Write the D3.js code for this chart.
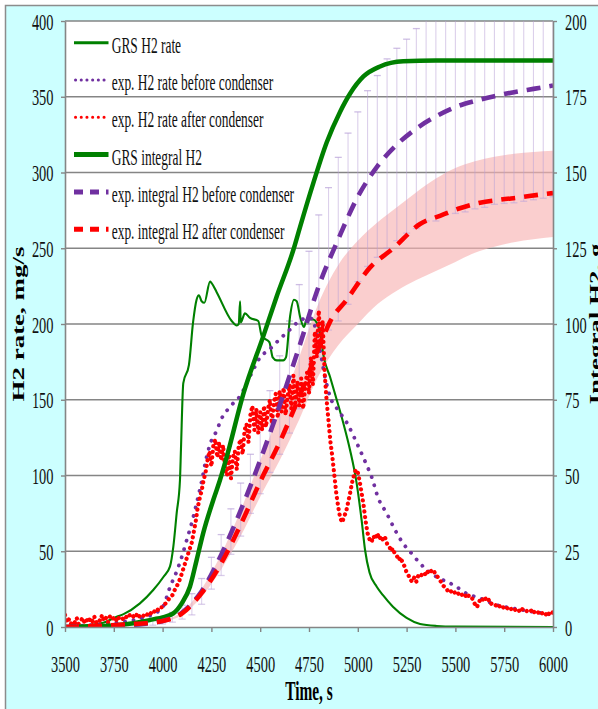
<!DOCTYPE html>
<html><head><meta charset="utf-8">
<script src="https://cdn.jsdelivr.net/npm/d3@7/dist/d3.min.js"></script>
<style>html,body{margin:0;padding:0;background:#fff;}svg{display:block;}</style>
</head><body>
<script>
// ---------- DATA ----------
const xTicks = [3500,3750,4000,4250,4500,4750,5000,5250,5500,5750,6000];
const yLeftTicks = [0,50,100,150,200,250,300,350,400];
const yRightTicks = [0,25,50,75,100,125,150,175,200];

// GRS H2 rate (mg/s)
const grsRateT = [3500,3600,3700,3765,3800,3884,3952,4004,4038,4055,4072,4089,4094,4106,4135,4156,4174,4186,4200,4214,4243,4251,4277,4354,4380,4390,4397,4400,4422,4448,4490,4508,4547,4564,4585,4618,4632,4653,4673,4687,4704,4724,4738,4772,4789,4810,4823,4858,4892,4926,4960,4994,5020,5037,5060,5097,5129,5180,5250,5319,5404,5500,6000];
const grsRateV = [0.3,1,3,6.8,8.5,15.6,24.4,33,40,53,75,97,117,161,173,201,216,219,215,214,228,227,221,202,199,200,215,201,207,204,202,192,188,178,176,176,178,205,216,215,205,198,203,203,201,192,180,165,150,134.5,117,95,70,51,36,26.6,21,13.4,6,2,0.7,0.3,0];

// exp. H2 rate before condenser (mg/s)
const expBeforeRateT = [3500,3600,3700,3800,3900,3950,4000,4040,4070,4100,4125,4150,4175,4200,4225,4250,4275,4300,4350,4400,4450,4500,4550,4600,4650,4700,4750,4770,4790,4806,4832,4858,4900,4943,5000,5045,5071,5105,5148,5191,5233,5268,5319,5353,5404,5455,5500,5558,5626,5712,5797,5899,6000];
const expBeforeRateV = [0.5,1,2,3.5,6,8.5,13,27,36,47,58,69,82,96,112,123,129,137,146,153,166,178,183.5,190,196,202,204,203,192,183,165,152,143,135,120,107,99,85,75,64,55,49.7,42,37.6,33,30,27,22,19,14.5,12.3,10,8];

// exp. H2 rate after condenser (mg/s), one reading every 10 s from 3500 s
const expAfterRateStart = 3500, expAfterRateStep = 10;
const expAfterRateV = [
 8,3,5,2,4,3,6,2,4,6,
 3,5,3,6,4,7,3,5,4,8,
 4,6,3,7,5,6,4,7,5,6,
 5,7,6,8,6,7,6,9,7,8,
 7,9,8,10,9,11,10,12,11,13,
 13,15,16,18,20,21,24,26,29,32,
 36,40,44,48,52,56,63,70,79,85,
 90,97,102,110,116,106,120,124,112,122,
 110,120,104,100,114,98,112,116,104,120,
 124,114,130,134,122,140,146,130,144,128,
 142,130,146,132,144,150,134,148,154,138,
 156,142,158,140,152,160,144,166,148,162,
 146,164,144,158,168,154,178,160,195,178,
 209,184,202,168,150,136,122,112,100,88,
 79,72,69,73,76,82,88,95,100,104,
 102,96,88,80,70,62,58,56,60,58,
 62,58,60,57,59,55,54,50,52,48,
 47,44,46,42,40,36,34,31,30,33,
 30,34,33,35,36,34,37,38,36,37,
 34,33,31,29,27,26,24,25,23,24,
 22,23,21,22,20,21,19,21,20,18,
 15,13,16,19,18,20,17,18,15,16,
 15,14,15,13,14,12,13,12,13,11,
 12,11,12,10,12,11,10,11,10,11,
 9,11,10,9,10,8,9,7,9,8,
 10];

// GRS integral H2 (g)
const grsIntT = [3500,3700,3800,3900,3950,4000,4055,4098,4140,4174,4208,4260,4294,4328,4414,4516,4584,4670,4704,4772,4841,4909,4960,5029,5114,5233,5400,6000];
const grsIntV = [0,0.3,0.8,1.8,2.5,3.2,4.5,7.8,13.3,22,31,42,48.5,56,77,96,109,124.5,132,146.5,160,170,176,181.7,185,186.7,187,187];

// exp. integral H2 before condenser (g)
const expBeforeIntT = [3500,3800,3900,4000,4100,4200,4300,4400,4500,4600,4700,4800,4900,5000,5100,5200,5300,5400,5500,5600,5700,5800,5900,6000];
const expBeforeIntV = [0,0.5,1,2,4.8,11.8,23.8,38.5,55,73.2,92.5,112.5,128,142,152,159.2,164.5,168.5,171.6,173.6,175.2,176.5,177.6,178.7];

// exp. integral H2 after condenser (g)
const expAfterIntT = [3500,3800,4000,4100,4200,4300,4400,4500,4600,4700,4800,4858,4943,5062,5182,5319,5421,5523,5626,5728,5831,5933,6000];
const expAfterIntV = [0,0.8,2,4.5,11.2,21,33.8,48,61,76,92,100.8,108,118.6,125,133,135.7,138.2,140,141,141.8,142.7,143.2];

// uncertainty band of integral after condenser (g)
const bandT  = [4000,4100,4200,4300,4400,4500,4600,4700,4800,4900,5000,5100,5200,5300,5400,5500,5600,5700,5800,5900,6000];
const bandHi = [2.3,5,12.6,24,38.5,55,71,89,107,119.5,127.5,133.5,138.5,143.5,148,151.5,153.7,155.2,156.2,156.8,157.2];
const bandLo = [1.7,4,10,19,30,43,55,68.5,83,93,100,106.5,111,114.5,117.5,120.5,123.5,125.5,127,128,128.7];

// error bars of integral before condenser (g)
const errT  = [3900,3950,4000,4050,4100,4150,4200,4250,4300,4350,4400,4450,4500,4550,4600,4650,4700,4750,4800,4850,4900,4950,5000,5050,5100,5150,5200,5250,5300,5350,5400,5450,5500,5550,5600,5650,5700,5750,5800,5850,5900,5950,6000];
const errHi = [1.5,2.2,3.2,4.8,7.2,11,16,23,30.5,39,47.5,57,67,78,89.5,101,113,124,136,145,155,163,170,177,182,187.5,191,194,197.5,200.5,203,205,207,208,209,210,211,212,213,213.5,214,215,215.5];
const errLo = [0.4,0.6,1,1.6,2.6,4,7.5,12.5,17,24,30,37.5,44,51,57,64,72,80.5,89,98,101,106.5,114,119,122,125,127.5,130,131.5,134,134,136,136.5,137,138,138.5,139.5,139.8,140,140.5,141,141.5,142];

const legendLabels = ["GRS H2 rate","exp. H2 rate before condenser","exp. H2 rate after condenser","GRS integral H2","exp. integral H2 before condenser","exp. integral H2 after condenser"];

// ---------- DRAW ----------
const W = 598, H = 709;
const M = {l:65, r:553, t:21, b:627};
const GREEN = "#008000", PURPLE = "#7030a0", RED = "#ff0000", GRID = "#858585";
const FONT = "'Liberation Serif','Times New Roman',serif";

const svg = d3.select("body").append("svg").attr("width", W).attr("height", H);
svg.append("rect").attr("x",5.5).attr("y",5.5).attr("width",W+10).attr("height",H+10)
   .attr("fill","#ccffff").attr("stroke","#8c8c8c").attr("stroke-width",1.5);
svg.append("rect").attr("x",M.l).attr("y",M.t).attr("width",M.r-M.l).attr("height",M.b-M.t).attr("fill","#fff");

const x = d3.scaleLinear().domain([3500,6000]).range([M.l,M.r]);
const yL = d3.scaleLinear().domain([0,400]).range([M.b,M.t]);
const yR = d3.scaleLinear().domain([0,200]).range([M.b,M.t]);

// gridlines
svg.append("g").selectAll("line").data(yLeftTicks.filter(d=>d>0)).join("line")
  .attr("x1",M.l).attr("x2",M.r).attr("y1",d=>yL(d)).attr("y2",d=>yL(d))
  .attr("stroke",GRID).attr("stroke-width",1.7);

const clip = svg.append("clipPath").attr("id","plotclip").append("rect")
  .attr("x",M.l).attr("y",M.t).attr("width",M.r-M.l).attr("height",M.b-M.t);
const plot = svg.append("g").attr("clip-path","url(#plotclip)");

// band
const bandData = bandT.map((t,i)=>({t, hi:bandHi[i], lo:bandLo[i]}));
plot.append("path").datum(bandData)
  .attr("d", d3.area().x(d=>x(d.t)).y0(d=>yR(d.lo)).y1(d=>yR(d.hi)).curve(d3.curveMonotoneX))
  .attr("fill","#f8b4b4").attr("fill-opacity",0.65);

// error bars
const errData = errT.map((t,i)=>({t, hi:errHi[i], lo:errLo[i]}));
const eb = plot.append("g");
eb.selectAll("line.v").data(errData).join("line").attr("class","v")
  .attr("x1",d=>x(d.t)).attr("x2",d=>x(d.t)).attr("y1",d=>yR(d.lo)).attr("y2",d=>yR(Math.min(d.hi,200)))
  .attr("stroke","#b9a2d8").attr("stroke-opacity",0.5).attr("stroke-width",1.1);
eb.selectAll("line.h").data(errData.filter(d=>d.hi<=200)).join("line").attr("class","h")
  .attr("x1",d=>x(d.t)-3.5).attr("x2",d=>x(d.t)+3.5).attr("y1",d=>yR(d.hi)).attr("y2",d=>yR(d.hi))
  .attr("stroke","#b9a2d8").attr("stroke-opacity",0.7).attr("stroke-width",1.3);
eb.selectAll("line.l").data(errData).join("line").attr("class","l")
  .attr("x1",d=>x(d.t)-3.5).attr("x2",d=>x(d.t)+3.5).attr("y1",d=>yR(d.lo)).attr("y2",d=>yR(d.lo))
  .attr("stroke","#b9a2d8").attr("stroke-opacity",0.55).attr("stroke-width",1.3);

function series(T, V, yScale, curve){
  return d3.line().x((d,i)=>x(T[i])).y(d=>yScale(d)).curve(curve||d3.curveMonotoneX)(V);
}
const expAfterRateT = expAfterRateV.map((v,i)=>expAfterRateStart + i*expAfterRateStep);

// rate series
plot.append("path").attr("d", series(grsRateT, grsRateV, yL)).attr("fill","none")
  .attr("stroke",GREEN).attr("stroke-width",2.1);
plot.append("path").attr("d", series(expBeforeRateT, expBeforeRateV, yL)).attr("fill","none")
  .attr("stroke",PURPLE).attr("stroke-width",3.8).attr("stroke-linecap","round").attr("stroke-dasharray","0.1 8.5");
plot.append("path").attr("d", series(expAfterRateT, expAfterRateV, yL, d3.curveLinear)).attr("fill","none")
  .attr("stroke",RED).attr("stroke-width",4.2).attr("stroke-linecap","round").attr("stroke-dasharray","0.1 5.5");
// integral series
plot.append("path").attr("d", series(grsIntT, grsIntV, yR)).attr("fill","none")
  .attr("stroke",GREEN).attr("stroke-width",4.5);
plot.append("path").attr("d", series(expBeforeIntT, expBeforeIntV, yR)).attr("fill","none")
  .attr("stroke",PURPLE).attr("stroke-width",4.6).attr("stroke-dasharray","14 9");
plot.append("path").attr("d", series(expAfterIntT, expAfterIntV, yR)).attr("fill","none")
  .attr("stroke",RED).attr("stroke-width",4.6).attr("stroke-dasharray","14 9");

// axes
function styleAxis(g){
  g.select(".domain").attr("stroke",GRID).attr("stroke-width",1.6);
  g.selectAll(".tick line").attr("stroke",GRID).attr("stroke-width",1.4);
  g.selectAll("text").attr("font-family",FONT).attr("font-size",24).attr("fill","#111");
}
const axL = svg.append("g").attr("transform",`translate(${M.l},0)`)
  .call(d3.axisLeft(yL).tickValues(yLeftTicks).tickSize(4).tickSizeOuter(0).tickFormat(d3.format("d")));
styleAxis(axL);
axL.selectAll("text").attr("x",null).attr("dy","0.34em").attr("transform","translate(-11.5,0) scale(0.6,1)");

const axR = svg.append("g").attr("transform",`translate(${M.r},0)`)
  .call(d3.axisRight(yR).tickValues(yRightTicks).tickSize(4).tickSizeOuter(0).tickFormat(d3.format("d")));
styleAxis(axR);
axR.selectAll("text").attr("x",null).attr("dy","0.34em").attr("transform","translate(12,0) scale(0.6,1)");

const axB = svg.append("g").attr("transform",`translate(0,${M.b})`)
  .call(d3.axisBottom(x).tickValues(xTicks).tickSize(5).tickSizeOuter(0).tickFormat(d3.format("d")));
styleAxis(axB);
axB.selectAll("text").attr("y",null).attr("dy",null).attr("transform","translate(0,44.5) scale(0.6,1)");

// axis titles
svg.append("text").attr("transform",`translate(309,700) scale(0.57,1)`).attr("text-anchor","middle")
  .attr("font-family",FONT).attr("font-weight","bold").attr("font-size",27).text("Time, s");
svg.append("text").attr("transform",`translate(23.5,${(M.t+M.b)/2}) scale(0.6,1) rotate(-90)`).attr("text-anchor","middle")
  .attr("font-family",FONT).attr("font-weight","bold").attr("font-size",27).text("H2 rate, mg/s");
svg.append("text").attr("transform",`translate(601,${(M.t+M.b)/2}) scale(0.6,1) rotate(-90)`).attr("text-anchor","middle")
  .attr("font-family",FONT).attr("font-weight","bold").attr("font-size",27).text("Integral H2, g");

// legend
const legStyles = [
  {c:GREEN, w:3, dash:null, cap:"butt"},
  {c:PURPLE, w:3, dash:"0.1 5.6", cap:"round"},
  {c:RED, w:3, dash:"0.1 5.6", cap:"round"},
  {c:GREEN, w:5, dash:null, cap:"butt"},
  {c:PURPLE, w:5, dash:"9 7", cap:"butt"},
  {c:RED, w:5, dash:"9 7", cap:"butt"}
];
const leg = svg.append("g");
legendLabels.forEach((lab,i)=>{
  const yy = 42.7 + i*37.3;
  const s = legStyles[i];
  leg.append("line").attr("x1",s.cap==="round"?75.5:74).attr("x2",108.5).attr("y1",yy).attr("y2",yy)
    .attr("stroke",s.c).attr("stroke-width",s.w).attr("stroke-linecap",s.cap)
    .attr("stroke-dasharray",s.dash);
  leg.append("text").attr("transform",`translate(111.7,${yy+10}) scale(0.56,1)`)
    .attr("font-family",FONT).attr("font-size",24).attr("fill","#111").text(lab);
});
</script>
</body></html>
